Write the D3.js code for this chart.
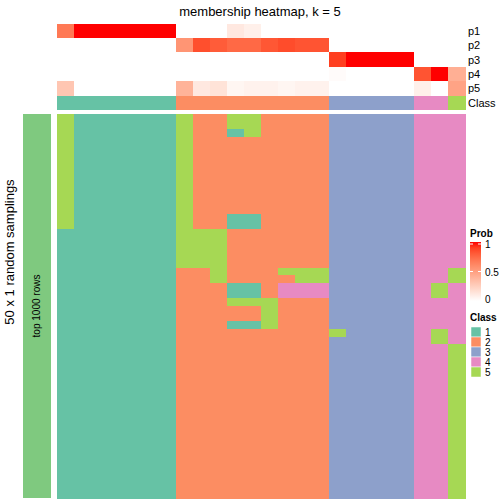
<!DOCTYPE html>
<html>
<head>
<meta charset="utf-8">
<script src="https://cdn.jsdelivr.net/npm/d3@7"></script>
<style>
html,body{margin:0;padding:0;background:#fff;}
svg{display:block;font-family:Arial,"Liberation Sans",Helvetica,sans-serif;}
</style>
</head>
<body>
<svg id="chart" width="504" height="504"></svg>
<script>
// ---- data ----
const title = "membership heatmap, k = 5";
const probNames = ["p1", "p2", "p3", "p4", "p5"];
const p1 = [0.68, 1, 1, 1, 1, 1, 1, 0, 0, 0, 0.12, 0.08, 0, 0, 0, 0, 0, 0, 0, 0, 0, 0, 0, 0];
const p2 = [0, 0, 0, 0, 0, 0, 0, 0.55, 0.85, 0.8, 0.75, 0.75, 0.82, 0.86, 0.83, 0.83, 0, 0, 0, 0, 0, 0, 0, 0];
const p3 = [0, 0, 0, 0, 0, 0, 0, 0, 0, 0, 0, 0, 0, 0, 0, 0, 0.9, 1, 1, 1, 1, 0, 0, 0];
const p4 = [0, 0, 0, 0, 0, 0, 0, 0, 0, 0, 0, 0, 0, 0, 0, 0, 0.02, 0, 0, 0, 0, 0.83, 1, 0.42];
const p5 = [0.3, 0, 0, 0, 0, 0, 0, 0.4, 0.12, 0.15, 0.05, 0.07, 0.07, 0.05, 0.07, 0.07, 0, 0, 0, 0, 0, 0.08, 0, 0.48];
const sampleClass = [1,1,1,1,1,1,1, 2,2,2,2,2,2,2,2,2, 3,3,3,3,3, 4,4, 5];
const classLabels = ["1", "2", "3", "4", "5"];
// 50 random samplings (rows) x 24 samples (columns): class assigned in each sampling
// groups separated by "|" : samples of class 1 | 2 | 3 | 4 | 5
const membership = [
  "5111111|522552222|33333|44|4",
  "5111111|522552222|33333|44|4",
  "5111111|522152222|33333|44|4",
  "5111111|522222222|33333|44|4",
  "5111111|522222222|33333|44|4",
  "5111111|522222222|33333|44|4",
  "5111111|522222222|33333|44|4",
  "5111111|522222222|33333|44|4",
  "5111111|522222222|33333|44|4",
  "5111111|522222222|33333|44|4",
  "5111111|522222222|33333|44|4",
  "5111111|522222222|33333|44|4",
  "5111111|522222222|33333|44|4",
  "5111111|522112222|33333|44|4",
  "5111111|522112222|33333|44|4",
  "1111111|555222222|33333|44|4",
  "1111111|555222222|33333|44|4",
  "1111111|555222222|33333|44|4",
  "1111111|555222222|33333|44|4",
  "1111111|555222222|33333|44|4",
  "1111111|225222555|33333|44|5",
  "1111111|225222255|33333|44|5",
  "1111111|222112444|33333|45|4",
  "1111111|222112444|33333|45|4",
  "1111111|222555222|33333|44|4",
  "1111111|222225222|33333|44|4",
  "1111111|222225222|33333|44|4",
  "1111111|222115222|33333|44|4",
  "1111111|222222222|53333|45|4",
  "1111111|222222222|33333|45|4",
  "1111111|222222222|33333|44|5",
  "1111111|222222222|33333|44|5",
  "1111111|222222222|33333|44|5",
  "1111111|222222222|33333|44|5",
  "1111111|222222222|33333|44|5",
  "1111111|222222222|33333|44|5",
  "1111111|222222222|33333|44|5",
  "1111111|222222222|33333|44|5",
  "1111111|222222222|33333|44|5",
  "1111111|222222222|33333|44|5",
  "1111111|222222222|33333|44|5",
  "1111111|222222222|33333|44|5",
  "1111111|222222222|33333|44|5",
  "1111111|222222222|33333|44|5",
  "1111111|222222222|33333|44|5",
  "1111111|222222222|33333|44|5",
  "1111111|222222222|33333|44|5",
  "1111111|222222222|33333|44|5",
  "1111111|222222222|33333|44|5",
  "1111111|222222222|33333|44|5"
];
const legendTicks = [0, 0.5, 1];

// ---- drawing ----
const probs = [p1, p2, p3, p4, p5];
const nCol = sampleClass.length;
const svg = d3.select("#chart");
const classColor = d3.scaleOrdinal().domain([1,2,3,4,5])
  .range(["#66C2A5", "#FC8D62", "#8DA0CB", "#E78AC3", "#A6D854"]);
const probColor = d3.scaleLinear().domain([0, 1]).range(["#FFFFFF", "#FF0000"]).interpolate(d3.interpolateLab);

const x = d3.scaleBand().domain(d3.range(nCol)).range([57, 465]);
const yAnno = d3.scaleBand().domain(d3.range(5)).range([24, 95]);
const y = d3.scaleBand().domain(d3.range(membership.length)).range([114, 498]);

svg.append("text").attr("x", 260).attr("y", 16).attr("text-anchor", "middle")
  .attr("font-size", 13).text(title);

// probability annotation rows
probs.forEach((arr, r) => {
  svg.append("g").attr("shape-rendering", "crispEdges").selectAll("rect").data(arr).join("rect")
    .attr("x", (d, i) => x(i)).attr("y", yAnno(r))
    .attr("width", x.bandwidth() + 0.5).attr("height", yAnno.bandwidth() + 0.5)
    .attr("fill", d => probColor(d));
  svg.append("text").attr("x", 468).attr("y", yAnno(r) + yAnno.bandwidth() / 2 + 4)
    .attr("font-size", 11).text(probNames[r]);
});

// class annotation row
svg.append("g").attr("shape-rendering", "crispEdges").selectAll("rect").data(sampleClass).join("rect")
  .attr("x", (d, i) => x(i)).attr("y", 96)
  .attr("width", x.bandwidth() + 0.5).attr("height", 14)
  .attr("fill", d => classColor(d));
svg.append("text").attr("x", 468).attr("y", 107).attr("font-size", 11).text("Class");

// main heatmap
const cells = [];
membership.forEach((row, r) => row.replace(/\|/g, "").split("").forEach((c, i) => cells.push({r, i, c: +c})));
svg.append("g").attr("shape-rendering", "crispEdges").selectAll("rect").data(cells).join("rect")
  .attr("x", d => x(d.i)).attr("y", d => y(d.r))
  .attr("width", x.bandwidth() + 0.5).attr("height", y.bandwidth() + 0.5)
  .attr("fill", d => classColor(d.c));

// left bar
svg.append("rect").attr("x", 23).attr("y", 114).attr("width", 28).attr("height", 384)
  .attr("fill", "#7FC97F");
svg.append("text").attr("transform", "translate(40,306) rotate(-90)")
  .attr("text-anchor", "middle").attr("font-size", 10).text("top 1000 rows");
svg.append("text").attr("transform", "translate(14,252) rotate(-90)")
  .attr("text-anchor", "middle").attr("font-size", 13).text("50 x 1 random samplings");

// Prob legend
const defs = svg.append("defs");
const grad = defs.append("linearGradient").attr("id", "pg")
  .attr("x1", 0).attr("y1", 1).attr("x2", 0).attr("y2", 0);
d3.range(0, 1.01, 0.1).forEach(t => grad.append("stop")
  .attr("offset", t).attr("stop-color", probColor(t)));
const ly = d3.scaleLinear().domain([0, 1]).range([299, 244]);
svg.append("text").attr("x", 470).attr("y", 237).attr("font-size", 10)
  .attr("font-weight", "bold").text("Prob");
svg.append("rect").attr("x", 470).attr("y", 242).attr("width", 11).attr("height", 59)
  .attr("fill", "url(#pg)");
legendTicks.forEach(t => {
  if (t > 0) {
    svg.append("line").attr("x1", 470).attr("x2", 473).attr("y1", ly(t)).attr("y2", ly(t))
      .attr("stroke", "#fff").attr("stroke-width", 1);
    svg.append("line").attr("x1", 478).attr("x2", 481).attr("y1", ly(t)).attr("y2", ly(t))
      .attr("stroke", "#fff").attr("stroke-width", 1);
  }
  svg.append("text").attr("x", 485).attr("y", ly(t) + 4).attr("font-size", 10).text(t);
});

// Class legend
svg.append("text").attr("x", 470).attr("y", 321).attr("font-size", 10)
  .attr("font-weight", "bold").text("Class");
classLabels.forEach((lab, i) => {
  svg.append("rect").attr("x", 471).attr("y", 327 + i * 10).attr("width", 10).attr("height", 10)
    .attr("fill", classColor(+lab)).attr("stroke", "#fff").attr("stroke-width", 0.5);
  svg.append("text").attr("x", 485).attr("y", 336 + i * 10).attr("font-size", 10).text(lab);
});
</script>
</body>
</html>
